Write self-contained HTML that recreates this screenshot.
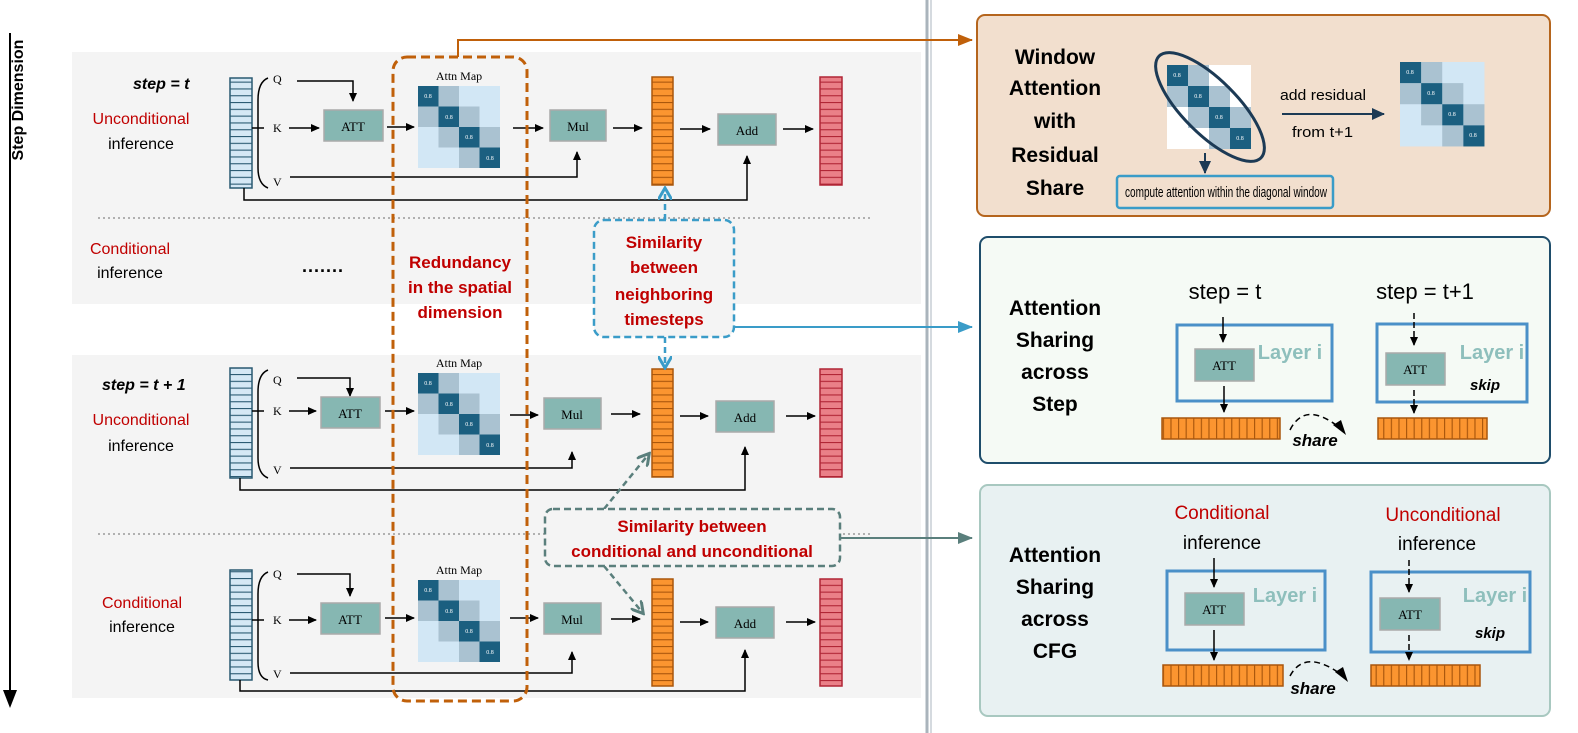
<!DOCTYPE html>
<html><head><meta charset="utf-8"><style>
html,body{margin:0;padding:0;background:#fff}
svg{display:block}
text{font-family:"Liberation Sans",sans-serif}
.s{font-family:"Liberation Serif",serif}
</style></head><body>
<svg width="1578" height="733" viewBox="0 0 1578 733" xmlns="http://www.w3.org/2000/svg">
<defs>
<marker id="ab" markerWidth="10" markerHeight="10" refX="8" refY="5" orient="auto" markerUnits="userSpaceOnUse"><path d="M0,1 L9,5 L0,9 z" fill="#000"/></marker>
<marker id="ao" markerWidth="16" markerHeight="14" refX="14" refY="7" orient="auto" markerUnits="userSpaceOnUse"><path d="M0,1 L15,7 L0,13 z" fill="#c0600a"/></marker>
<marker id="abl" markerWidth="16" markerHeight="14" refX="14" refY="7" orient="auto" markerUnits="userSpaceOnUse"><path d="M0,1 L15,7 L0,13 z" fill="#3a9cc8"/></marker>
<marker id="ag" markerWidth="16" markerHeight="14" refX="14" refY="7" orient="auto" markerUnits="userSpaceOnUse"><path d="M0,1 L15,7 L0,13 z" fill="#5a7f7c"/></marker>
<marker id="an" markerWidth="14" markerHeight="12" refX="12" refY="6" orient="auto" markerUnits="userSpaceOnUse"><path d="M0,0 L13,6 L0,12 z" fill="#1c3a55"/></marker>
<marker id="abl2" markerWidth="14" markerHeight="14" refX="10" refY="7" orient="auto" markerUnits="userSpaceOnUse"><path d="M0,0 L12,7 L0,14" fill="none" stroke="#3a9cc8" stroke-width="3"/></marker>
<marker id="ag2" markerWidth="14" markerHeight="14" refX="10" refY="7" orient="auto" markerUnits="userSpaceOnUse"><path d="M0,0 L12,7 L0,14" fill="none" stroke="#5a7f7c" stroke-width="3"/></marker>
<pattern id="pb" width="22" height="6.8" patternUnits="userSpaceOnUse"><rect width="22" height="6.8" fill="#d5e8f5"/><line x1="0" y1="0.5" x2="22" y2="0.5" stroke="#2a5a72" stroke-width="1.3"/></pattern>
<pattern id="po" width="22" height="6.8" patternUnits="userSpaceOnUse"><rect width="22" height="6.8" fill="#fb9530"/><line x1="0" y1="0.5" x2="22" y2="0.5" stroke="#a9560c" stroke-width="1.3"/></pattern>
<pattern id="pr" width="22" height="6.8" patternUnits="userSpaceOnUse"><rect width="22" height="6.8" fill="#ea8088"/><line x1="0" y1="0.5" x2="22" y2="0.5" stroke="#b02535" stroke-width="1.3"/></pattern>
<pattern id="pv" width="7.6" height="22" patternUnits="userSpaceOnUse"><rect width="7.6" height="22" fill="#fb9530"/><line x1="0.5" y1="0" x2="0.5" y2="22" stroke="#a9560c" stroke-width="1.3"/></pattern>
<g id="am">
<rect x="0" y="0" width="82" height="82" fill="#d2e7f5"/>
<rect x="20.5" y="0" width="20.5" height="20.5" fill="#aac2d1"/><rect x="0" y="20.5" width="20.5" height="20.5" fill="#aac2d1"/>
<rect x="41" y="20.5" width="20.5" height="20.5" fill="#aac2d1"/><rect x="20.5" y="41" width="20.5" height="20.5" fill="#aac2d1"/>
<rect x="61.5" y="41" width="20.5" height="20.5" fill="#aac2d1"/><rect x="41" y="61.5" width="20.5" height="20.5" fill="#aac2d1"/>
<rect x="0" y="0" width="20.5" height="20.5" fill="#1b5f80"/><rect x="20.5" y="20.5" width="20.5" height="20.5" fill="#1b5f80"/>
<rect x="41" y="41" width="20.5" height="20.5" fill="#1b5f80"/><rect x="61.5" y="61.5" width="20.5" height="20.5" fill="#1b5f80"/>
</g>
</defs>

<rect x="72" y="52" width="849" height="252" fill="#f4f4f4"/>
<rect x="72" y="355" width="849" height="343" fill="#f4f4f4"/>
<line x1="98" y1="218" x2="873" y2="218" stroke="#999" stroke-width="1.5" stroke-dasharray="2,3"/>
<line x1="98" y1="534" x2="873" y2="534" stroke="#999" stroke-width="1.5" stroke-dasharray="2,3"/>
<line x1="927" y1="0" x2="927" y2="733" stroke="#aab4bc" stroke-width="3"/>
<line x1="931" y1="0" x2="931" y2="733" stroke="#d5dadf" stroke-width="2"/>

<line x1="10" y1="33" x2="10" y2="695" stroke="#000" stroke-width="2"/>
<path d="M3,690 L10,708 L17,690 z" fill="#000"/>
<text transform="translate(23,100) rotate(-90)" text-anchor="middle" font-size="16" font-weight="bold">Step Dimension</text>

<text x="133" y="89" font-size="16" font-weight="bold" font-style="italic">step = t</text>
<text x="141" y="124" font-size="16" fill="#c00000" text-anchor="middle">Unconditional</text>
<text x="141" y="149" font-size="16" text-anchor="middle">inference</text>
<text x="130" y="254" font-size="16" fill="#c00000" text-anchor="middle">Conditional</text>
<text x="130" y="278" font-size="16" text-anchor="middle">inference</text>
<text x="302" y="272" font-size="18" font-weight="bold" letter-spacing="1">.......</text>
<text x="102" y="390" font-size="16" font-weight="bold" font-style="italic">step = t + 1</text>
<text x="141" y="425" font-size="16" fill="#c00000" text-anchor="middle">Unconditional</text>
<text x="141" y="451" font-size="16" text-anchor="middle">inference</text>
<text x="142" y="608" font-size="16" fill="#c00000" text-anchor="middle">Conditional</text>
<text x="142" y="632" font-size="16" text-anchor="middle">inference</text>

<!-- ROW 1 -->
<rect x="230" y="78" width="22" height="110" fill="url(#pb)" stroke="#2a5a72" stroke-width="1.5"/>
<path d="M268,78 Q258,82 258,100 L258,168 Q258,184 268,188" fill="none" stroke="#000" stroke-width="1.5"/>
<line x1="252" y1="128" x2="264" y2="128" stroke="#000" stroke-width="1.5"/>
<text class="s" x="273" y="83" font-size="12">Q</text><text class="s" x="273" y="132" font-size="12">K</text><text class="s" x="273" y="186" font-size="12">V</text>
<polyline points="297,81 353,81 353,101" fill="none" stroke="#000" stroke-width="1.5" marker-end="url(#ab)"/>
<line x1="289" y1="128" x2="319" y2="128" stroke="#000" stroke-width="1.5" marker-end="url(#ab)"/>
<rect x="324" y="110" width="59" height="31" fill="#86b7b2" stroke="#aaa" stroke-width="1.5"/><text class="s" x="353" y="131" font-size="13" text-anchor="middle">ATT</text>
<line x1="387" y1="127" x2="414" y2="127" stroke="#000" stroke-width="1.5" marker-end="url(#ab)"/>
<text class="s" x="459" y="80" font-size="12" text-anchor="middle">Attn Map</text>
<use href="#am" x="418" y="86"/>
<line x1="513" y1="128" x2="543" y2="128" stroke="#000" stroke-width="1.5" marker-end="url(#ab)"/>
<rect x="550" y="110" width="56" height="31" fill="#86b7b2" stroke="#aaa" stroke-width="1.5"/><text class="s" x="578" y="131" font-size="13" text-anchor="middle">Mul</text>
<polyline points="290,177 577,177 577,152" fill="none" stroke="#000" stroke-width="1.5" marker-end="url(#ab)"/>
<line x1="613" y1="128" x2="642" y2="128" stroke="#000" stroke-width="1.5" marker-end="url(#ab)"/>
<rect x="652" y="77" width="21" height="108" fill="url(#po)" stroke="#a9560c" stroke-width="1.5"/>
<line x1="680" y1="129" x2="710" y2="129" stroke="#000" stroke-width="1.5" marker-end="url(#ab)"/>
<rect x="718" y="114" width="58" height="31" fill="#86b7b2" stroke="#aaa" stroke-width="1.5"/><text class="s" x="747" y="135" font-size="13" text-anchor="middle">Add</text>
<line x1="783" y1="129" x2="813" y2="129" stroke="#000" stroke-width="1.5" marker-end="url(#ab)"/>
<rect x="820" y="77" width="22" height="108" fill="url(#pr)" stroke="#b02535" stroke-width="1.5"/>
<polyline points="244,188 244,200 747,200 747,156" fill="none" stroke="#000" stroke-width="1.5" marker-end="url(#ab)"/>

<!-- ROW 2 -->
<rect x="230" y="368" width="22" height="110" fill="url(#pb)" stroke="#2a5a72" stroke-width="1.5"/>
<path d="M268,370 Q258,374 258,392 L258,458 Q258,474 268,478" fill="none" stroke="#000" stroke-width="1.5"/>
<line x1="252" y1="411" x2="264" y2="411" stroke="#000" stroke-width="1.5"/>
<text class="s" x="273" y="384" font-size="12">Q</text><text class="s" x="273" y="415" font-size="12">K</text><text class="s" x="273" y="474" font-size="12">V</text>
<polyline points="297,378 350,378 350,396" fill="none" stroke="#000" stroke-width="1.5" marker-end="url(#ab)"/>
<line x1="289" y1="411" x2="316" y2="411" stroke="#000" stroke-width="1.5" marker-end="url(#ab)"/>
<rect x="321" y="397" width="59" height="31" fill="#86b7b2" stroke="#aaa" stroke-width="1.5"/><text class="s" x="350" y="418" font-size="13" text-anchor="middle">ATT</text>
<line x1="385" y1="411" x2="414" y2="411" stroke="#000" stroke-width="1.5" marker-end="url(#ab)"/>
<text class="s" x="459" y="367" font-size="12" text-anchor="middle">Attn Map</text>
<use href="#am" x="418" y="373"/>
<line x1="510" y1="415" x2="538" y2="415" stroke="#000" stroke-width="1.5" marker-end="url(#ab)"/>
<rect x="544" y="398" width="57" height="31" fill="#86b7b2" stroke="#aaa" stroke-width="1.5"/><text class="s" x="572" y="419" font-size="13" text-anchor="middle">Mul</text>
<polyline points="290,468 572,468 572,452" fill="none" stroke="#000" stroke-width="1.5" marker-end="url(#ab)"/>
<line x1="611" y1="414" x2="640" y2="414" stroke="#000" stroke-width="1.5" marker-end="url(#ab)"/>
<rect x="652" y="369" width="21" height="108" fill="url(#po)" stroke="#a9560c" stroke-width="1.5"/>
<line x1="680" y1="416" x2="708" y2="416" stroke="#000" stroke-width="1.5" marker-end="url(#ab)"/>
<rect x="716" y="401" width="58" height="31" fill="#86b7b2" stroke="#aaa" stroke-width="1.5"/><text class="s" x="745" y="422" font-size="13" text-anchor="middle">Add</text>
<line x1="786" y1="416" x2="815" y2="416" stroke="#000" stroke-width="1.5" marker-end="url(#ab)"/>
<rect x="820" y="369" width="22" height="108" fill="url(#pr)" stroke="#b02535" stroke-width="1.5"/>
<polyline points="240,478 240,490 745,490 745,447" fill="none" stroke="#000" stroke-width="1.5" marker-end="url(#ab)"/>

<!-- ROW 3 -->
<rect x="230" y="570" width="22" height="110" fill="url(#pb)" stroke="#2a5a72" stroke-width="1.5"/>
<path d="M268,572 Q258,576 258,594 L258,662 Q258,678 268,680" fill="none" stroke="#000" stroke-width="1.5"/>
<line x1="252" y1="620" x2="264" y2="620" stroke="#000" stroke-width="1.5"/>
<text class="s" x="273" y="578" font-size="12">Q</text><text class="s" x="273" y="624" font-size="12">K</text><text class="s" x="273" y="678" font-size="12">V</text>
<polyline points="297,574 350,574 350,596" fill="none" stroke="#000" stroke-width="1.5" marker-end="url(#ab)"/>
<line x1="289" y1="620" x2="316" y2="620" stroke="#000" stroke-width="1.5" marker-end="url(#ab)"/>
<rect x="321" y="603" width="59" height="31" fill="#86b7b2" stroke="#aaa" stroke-width="1.5"/><text class="s" x="350" y="624" font-size="13" text-anchor="middle">ATT</text>
<line x1="385" y1="618" x2="414" y2="618" stroke="#000" stroke-width="1.5" marker-end="url(#ab)"/>
<text class="s" x="459" y="574" font-size="12" text-anchor="middle">Attn Map</text>
<use href="#am" x="418" y="580"/>
<line x1="510" y1="618" x2="538" y2="618" stroke="#000" stroke-width="1.5" marker-end="url(#ab)"/>
<rect x="544" y="603" width="57" height="31" fill="#86b7b2" stroke="#aaa" stroke-width="1.5"/><text class="s" x="572" y="624" font-size="13" text-anchor="middle">Mul</text>
<polyline points="290,673 572,673 572,652" fill="none" stroke="#000" stroke-width="1.5" marker-end="url(#ab)"/>
<line x1="611" y1="619" x2="640" y2="619" stroke="#000" stroke-width="1.5" marker-end="url(#ab)"/>
<rect x="652" y="579" width="21" height="107" fill="url(#po)" stroke="#a9560c" stroke-width="1.5"/>
<line x1="680" y1="622" x2="708" y2="622" stroke="#000" stroke-width="1.5" marker-end="url(#ab)"/>
<rect x="716" y="607" width="58" height="31" fill="#86b7b2" stroke="#aaa" stroke-width="1.5"/><text class="s" x="745" y="628" font-size="13" text-anchor="middle">Add</text>
<line x1="786" y1="622" x2="815" y2="622" stroke="#000" stroke-width="1.5" marker-end="url(#ab)"/>
<rect x="820" y="579" width="22" height="107" fill="url(#pr)" stroke="#b02535" stroke-width="1.5"/>
<polyline points="240,680 240,691 745,691 745,650" fill="none" stroke="#000" stroke-width="1.5" marker-end="url(#ab)"/>

<g font-size="6" fill="#fff" text-anchor="middle">
<text class="s" x="428" y="98">0.8</text><text class="s" x="449" y="119">0.8</text><text class="s" x="469" y="139">0.8</text><text class="s" x="490" y="160">0.8</text>
<text class="s" x="428" y="385">0.8</text><text class="s" x="449" y="406">0.8</text><text class="s" x="469" y="426">0.8</text><text class="s" x="490" y="447">0.8</text>
<text class="s" x="428" y="592">0.8</text><text class="s" x="449" y="613">0.8</text><text class="s" x="469" y="633">0.8</text><text class="s" x="490" y="654">0.8</text>
</g>

<!-- orange dashed box -->
<rect x="393" y="57" width="134" height="644" rx="14" fill="none" stroke="#c0600a" stroke-width="3" stroke-dasharray="9,5"/>
<polyline points="458,57 458,40 972,40" fill="none" stroke="#c0600a" stroke-width="2" marker-end="url(#ao)"/>
<g font-size="17" font-weight="bold" fill="#c00000" text-anchor="middle">
<text x="460" y="268">Redundancy</text><text x="460" y="293">in the spatial</text><text x="460" y="318">dimension</text>
</g>

<!-- blue dashed box -->
<line x1="665" y1="220" x2="665" y2="190" stroke="#3a9cc8" stroke-width="2.5" stroke-dasharray="6,4" marker-end="url(#abl2)"/>
<line x1="665" y1="337" x2="665" y2="366" stroke="#3a9cc8" stroke-width="2.5" stroke-dasharray="6,4" marker-end="url(#abl2)"/>
<rect x="594" y="220" width="140" height="117" rx="10" fill="#f4f4f4" stroke="#3a9cc8" stroke-width="2.5" stroke-dasharray="7,4"/>
<polyline points="734,327 972,327" fill="none" stroke="#3a9cc8" stroke-width="2" marker-end="url(#abl)"/>
<g font-size="17" font-weight="bold" fill="#c00000" text-anchor="middle">
<text x="664" y="248">Similarity</text><text x="664" y="273">between</text><text x="664" y="300">neighboring</text><text x="664" y="325">timesteps</text>
</g>

<!-- gray-green dashed box -->
<line x1="604" y1="509" x2="648" y2="455" stroke="#5a7f7c" stroke-width="2.5" stroke-dasharray="6,4" marker-end="url(#ag2)"/>
<line x1="604" y1="566" x2="642" y2="612" stroke="#5a7f7c" stroke-width="2.5" stroke-dasharray="6,4" marker-end="url(#ag2)"/>
<rect x="545" y="509" width="295" height="57" rx="8" fill="#f4f4f4" stroke="#5a7f7c" stroke-width="2.5" stroke-dasharray="7,4"/>
<polyline points="840,538 972,538" fill="none" stroke="#5a7f7c" stroke-width="2" marker-end="url(#ag)"/>
<g font-size="17" font-weight="bold" fill="#c00000" text-anchor="middle">
<text x="692" y="532">Similarity between</text><text x="692" y="557">conditional and unconditional</text>
</g>

<!-- RIGHT PANEL 1 -->
<rect x="977" y="15" width="573" height="201" rx="8" fill="#f2dfce" stroke="#b5651d" stroke-width="2"/>
<g font-size="21" font-weight="bold" text-anchor="middle">
<text x="1055" y="64">Window</text><text x="1055" y="95">Attention</text><text x="1055" y="128">with</text><text x="1055" y="162">Residual</text><text x="1055" y="195">Share</text>
</g>
<rect x="1167" y="65" width="84" height="84" fill="#fff"/>
<rect x="1188" y="65" width="21" height="21" fill="#aac2d1"/><rect x="1167" y="86" width="21" height="21" fill="#aac2d1"/>
<rect x="1209" y="86" width="21" height="21" fill="#aac2d1"/><rect x="1188" y="107" width="21" height="21" fill="#aac2d1"/>
<rect x="1230" y="107" width="21" height="21" fill="#aac2d1"/><rect x="1209" y="128" width="21" height="21" fill="#aac2d1"/>
<rect x="1167" y="65" width="21" height="21" fill="#1b5f80"/><rect x="1188" y="86" width="21" height="21" fill="#1b5f80"/>
<rect x="1209" y="107" width="21" height="21" fill="#1b5f80"/><rect x="1230" y="128" width="21" height="21" fill="#1b5f80"/>
<ellipse cx="1210" cy="107" rx="72" ry="27" transform="rotate(45 1210 107)" fill="none" stroke="#1c3a55" stroke-width="3"/>
<use href="#am" transform="translate(1400 62) scale(1.03)"/>
<g font-size="6" fill="#fff" text-anchor="middle">
<text class="s" x="1177" y="77">0.8</text><text class="s" x="1198" y="98">0.8</text><text class="s" x="1219" y="119">0.8</text><text class="s" x="1240" y="140">0.8</text>
<text class="s" x="1410" y="74">0.8</text><text class="s" x="1431" y="95">0.8</text><text class="s" x="1452" y="116">0.8</text><text class="s" x="1473" y="137">0.8</text>
</g>
<line x1="1205" y1="153" x2="1205" y2="173" stroke="#1c3a55" stroke-width="2" marker-end="url(#an)"/>
<text x="1280" y="100" font-size="15" textLength="86" lengthAdjust="spacingAndGlyphs">add residual</text>
<line x1="1282" y1="114" x2="1384" y2="114" stroke="#1c3a55" stroke-width="2" marker-end="url(#an)"/>
<text x="1292" y="137" font-size="15" textLength="61" lengthAdjust="spacingAndGlyphs">from t+1</text>
<rect x="1117" y="176" width="216" height="32" rx="3" fill="#f2dfce" stroke="#3a9cc8" stroke-width="2.5"/>
<text x="1125" y="197" font-size="15" textLength="202" lengthAdjust="spacingAndGlyphs">compute attention within the diagonal window</text>

<!-- RIGHT PANEL 2 -->
<rect x="980" y="237" width="570" height="226" rx="8" fill="#f5faf5" stroke="#1e4d6b" stroke-width="2"/>
<g font-size="21" font-weight="bold" text-anchor="middle">
<text x="1055" y="315">Attention</text><text x="1055" y="347">Sharing</text><text x="1055" y="379">across</text><text x="1055" y="411">Step</text>
</g>
<text x="1225" y="299" font-size="22" text-anchor="middle">step = t</text>
<text x="1425" y="299" font-size="22" text-anchor="middle">step = t+1</text>
<rect x="1177" y="325" width="155" height="76" fill="none" stroke="#4a90c8" stroke-width="3"/>
<line x1="1223" y1="317" x2="1223" y2="342" stroke="#000" stroke-width="1.5" marker-end="url(#ab)"/>
<rect x="1195" y="349" width="59" height="32" fill="#86b7b2" stroke="#aaa" stroke-width="1.5"/><text class="s" x="1224" y="370" font-size="13" text-anchor="middle">ATT</text>
<text x="1290" y="359" font-size="20" font-weight="bold" fill="#8ebfbc" text-anchor="middle">Layer i</text>
<line x1="1224" y1="386" x2="1224" y2="412" stroke="#000" stroke-width="1.5" marker-end="url(#ab)"/>
<rect x="1162" y="418" width="118" height="21" fill="url(#pv)" stroke="#a9560c" stroke-width="1.5"/>
<path d="M1290,430 Q1305,400 1340,428" fill="none" stroke="#000" stroke-width="1.5" stroke-dasharray="6,4"/>
<path d="M1333,425 L1346,435 L1341,420 z" fill="#000"/>
<text x="1315" y="446" font-size="17" font-weight="bold" font-style="italic" text-anchor="middle">share</text>
<rect x="1377" y="324" width="150" height="78" fill="none" stroke="#4a90c8" stroke-width="3"/>
<line x1="1414" y1="313" x2="1414" y2="345" stroke="#000" stroke-width="1.5" stroke-dasharray="6,3" marker-end="url(#ab)"/>
<rect x="1386" y="353" width="59" height="32" fill="#86b7b2" stroke="#aaa" stroke-width="1.5"/><text class="s" x="1415" y="374" font-size="13" text-anchor="middle">ATT</text>
<text x="1492" y="359" font-size="20" font-weight="bold" fill="#8ebfbc" text-anchor="middle">Layer i</text>
<text x="1485" y="390" font-size="15" font-weight="bold" font-style="italic" text-anchor="middle">skip</text>
<line x1="1414" y1="390" x2="1414" y2="413" stroke="#000" stroke-width="1.5" stroke-dasharray="6,3" marker-end="url(#ab)"/>
<rect x="1378" y="418" width="109" height="21" fill="url(#pv)" stroke="#a9560c" stroke-width="1.5"/>

<!-- RIGHT PANEL 3 -->
<rect x="980" y="485" width="570" height="231" rx="8" fill="#e8f1f2" stroke="#a8c8c0" stroke-width="2"/>
<g font-size="21" font-weight="bold" text-anchor="middle">
<text x="1055" y="562">Attention</text><text x="1055" y="594">Sharing</text><text x="1055" y="626">across</text><text x="1055" y="658">CFG</text>
</g>
<text x="1222" y="519" font-size="19" fill="#c00000" text-anchor="middle">Conditional</text>
<text x="1222" y="549" font-size="19" text-anchor="middle">inference</text>
<text x="1443" y="521" font-size="19" fill="#c00000" text-anchor="middle">Unconditional</text>
<text x="1437" y="550" font-size="19" text-anchor="middle">inference</text>
<rect x="1167" y="571" width="158" height="79" fill="none" stroke="#4a90c8" stroke-width="3"/>
<line x1="1214" y1="558" x2="1214" y2="587" stroke="#000" stroke-width="1.5" marker-end="url(#ab)"/>
<rect x="1185" y="593" width="59" height="32" fill="#86b7b2" stroke="#aaa" stroke-width="1.5"/><text class="s" x="1214" y="614" font-size="13" text-anchor="middle">ATT</text>
<text x="1285" y="602" font-size="20" font-weight="bold" fill="#8ebfbc" text-anchor="middle">Layer i</text>
<line x1="1214" y1="630" x2="1214" y2="660" stroke="#000" stroke-width="1.5" marker-end="url(#ab)"/>
<rect x="1163" y="665" width="120" height="21" fill="url(#pv)" stroke="#a9560c" stroke-width="1.5"/>
<path d="M1290,676 Q1305,648 1342,675" fill="none" stroke="#000" stroke-width="1.5" stroke-dasharray="6,4"/>
<path d="M1335,672 L1348,682 L1343,667 z" fill="#000"/>
<text x="1313" y="694" font-size="17" font-weight="bold" font-style="italic" text-anchor="middle">share</text>
<rect x="1371" y="572" width="159" height="80" fill="none" stroke="#4a90c8" stroke-width="3"/>
<line x1="1409" y1="560" x2="1409" y2="592" stroke="#000" stroke-width="1.5" stroke-dasharray="6,3" marker-end="url(#ab)"/>
<rect x="1380" y="598" width="60" height="32" fill="#86b7b2" stroke="#aaa" stroke-width="1.5"/><text class="s" x="1410" y="619" font-size="13" text-anchor="middle">ATT</text>
<text x="1495" y="602" font-size="20" font-weight="bold" fill="#8ebfbc" text-anchor="middle">Layer i</text>
<text x="1490" y="638" font-size="15" font-weight="bold" font-style="italic" text-anchor="middle">skip</text>
<line x1="1409" y1="635" x2="1409" y2="660" stroke="#000" stroke-width="1.5" stroke-dasharray="6,3" marker-end="url(#ab)"/>
<rect x="1371" y="665" width="109" height="21" fill="url(#pv)" stroke="#a9560c" stroke-width="1.5"/>
</svg>
</body></html>
